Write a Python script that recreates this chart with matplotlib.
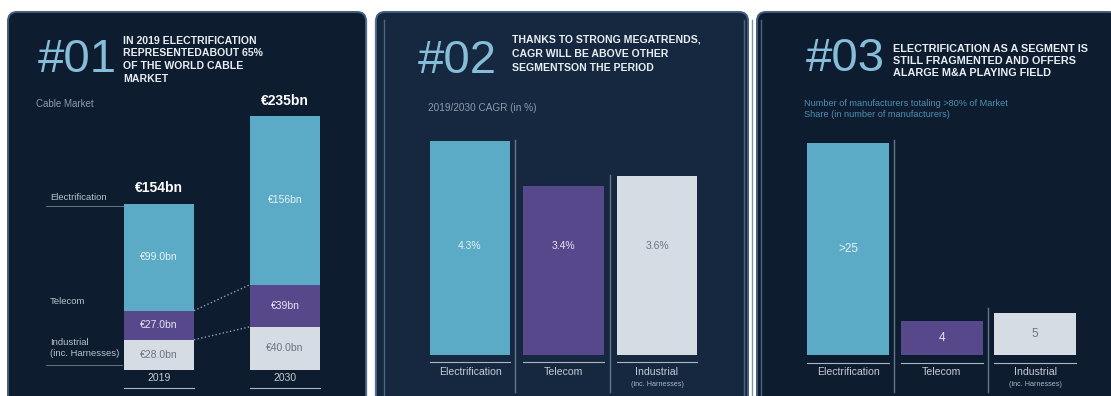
import matplotlib
matplotlib.use("Agg")
import matplotlib.pyplot as plt
from matplotlib.patches import FancyBboxPatch
import matplotlib.transforms as mtransforms

# ---------------- data ----------------
years = ["2019", "2030"]
electrification_bn = [99.0, 156.0]
telecom_bn = [27.0, 39.0]
industrial_bn = [28.0, 40.0]
elec_labels = ["€99.0bn", "€156bn"]
tele_labels = ["€27.0bn", "€39bn"]
ind_labels = ["€28.0bn", "€40.0bn"]
total_labels = ["€154bn", "€235bn"]

segments = ["Electrification", "Telecom", "Industrial"]
cagr_pct = [4.3, 3.4, 3.6]
cagr_labels = ["4.3%", "3.4%", "3.6%"]

manufacturers = [25, 4, 5]
manuf_labels = [">25", "4", "5"]

# ---------------- style ----------------
W, H = 1111, 396
C_ELEC = "#5cabc6"
C_TELE = "#56488a"
C_IND = "#d6dce4"
C_NUM = "#86bdd8"
C_HEAD = "#e8edf2"
C_SUB = "#8d9bab"
FONT = "Liberation Sans"

fig = plt.figure(figsize=(W / 100, H / 100), dpi=100)
fig.patch.set_facecolor("white")

bg = fig.add_axes([0, 0, 1, 1])
bg.set_xlim(0, W)
bg.set_ylim(H, 0)
bg.axis("off")

# panels
panels = [(8, 366, "#0e1c2f"), (376, 748, "#16283f"), (757, 1118, "#0e1c30")]
for x0, x1, col in panels:
    bg.add_patch(FancyBboxPatch((x0, 12), x1 - x0, 400, boxstyle="round,pad=0,rounding_size=9",
                                facecolor=col, edgecolor="#3f5d7c", linewidth=1.4))
# glass edge lines
for x in [366, 375, 384, 744, 752, 761]:
    bg.plot([x, x], [20, H], color="#5a7896", lw=1.0, alpha=0.8)


def px_axes(x0, x1, ytop, ybot):
    ax = fig.add_axes([x0 / W, 1 - ybot / H, (x1 - x0) / W, (ybot - ytop) / H])
    ax.patch.set_alpha(0)
    ax.axis("off")
    return ax


def header(x_num, base, num, xt, ytop, lines, sp=12, fs=7.8):
    bg.text(x_num, base, num, fontsize=34, color=C_NUM, family=FONT, va="baseline", ha="left")
    for i, ln in enumerate(lines):
        bg.text(xt, ytop + i * sp, ln, fontsize=fs, color=C_HEAD, family=FONT,
                fontweight="bold", va="top", ha="left")


LBL = "#c4ccd6"

# ---------------- panel 1 ----------------
header(38, 72, "#01", 123, 36, ["IN 2019 ELECTRIFICATION", "REPRESENTEDABOUT 65%",
                                 "OF THE WORLD CABLE", "MARKET"], sp=12.5, fs=7.6)
bg.text(36, 104, "Cable Market", fontsize=7, color=C_SUB, family=FONT, va="center")

ax1 = px_axes(100, 345, 100, 370)
ax1.set_xlim(-0.468, 1.476)
ax1.set_ylim(0, 250)
xs = [0, 1]
bw = 0.556
ax1.bar(xs, industrial_bn, width=bw, color=C_IND)
ax1.bar(xs, telecom_bn, width=bw, bottom=industrial_bn, color=C_TELE)
base2 = [a + b for a, b in zip(industrial_bn, telecom_bn)]
ax1.bar(xs, electrification_bn, width=bw, bottom=base2, color=C_ELEC)
for i in range(2):
    ax1.text(xs[i], industrial_bn[i] / 2, ind_labels[i], ha="center", va="center",
             fontsize=7.5, color="#6b7480", family=FONT)
    ax1.text(xs[i], industrial_bn[i] + telecom_bn[i] / 2, tele_labels[i], ha="center",
             va="center", fontsize=7.5, color="#e8e4f4", family=FONT)
    ax1.text(xs[i], base2[i] + electrification_bn[i] / 2, elec_labels[i], ha="center",
             va="center", fontsize=7.5, color="#e4f2f8", family=FONT)
    tot = base2[i] + electrification_bn[i]
    ax1.text(xs[i], tot + 8, total_labels[i], ha="center", va="bottom", fontsize=10,
             color="white", family=FONT, fontweight="bold")
# connectors
ax1.plot([xs[0] + bw / 2, xs[1] - bw / 2], [base2[0], base2[1]], ls=":", color="#8aa0b8", lw=1)
ax1.plot([xs[0] + bw / 2, xs[1] - bw / 2], [industrial_bn[0], industrial_bn[1]], ls=":",
         color="#8aa0b8", lw=1)
tr1 = mtransforms.blended_transform_factory(ax1.transData, bg.transData)
for i in range(2):
    ax1.text(xs[i], 378, years[i], transform=tr1, ha="center", va="center", fontsize=7.5,
             color=LBL, family=FONT)
    ax1.plot([xs[i] - bw / 2, xs[i] + bw / 2], [388, 388], transform=tr1, color="#aab6c4",
             lw=0.8, clip_on=False)
# left labels
bg.text(50, 198, "Electrification", fontsize=6.8, color="#b8c2cc", family=FONT, va="center")
bg.plot([46, 124], [206, 206], color="#6e8296", lw=0.6)
bg.text(50, 301, "Telecom", fontsize=6.8, color="#b8c2cc", family=FONT, va="center")
bg.text(50, 348, "Industrial\n(inc. Harnesses)", fontsize=6.8, color="#b8c2cc", family=FONT,
        va="center", linespacing=1.2)
bg.plot([46, 122], [365, 365], color="#6e8296", lw=0.6)

# ---------------- panel 2 ----------------
header(418, 73, "#02", 512, 35, ["THANKS TO STRONG MEGATRENDS,", "CAGR WILL BE ABOVE OTHER",
                                  "SEGMENTSON THE PERIOD"], sp=14, fs=7.6)
bg.text(428, 108, "2019/2030 CAGR (in %)", fontsize=7.2, color=C_SUB, family=FONT, va="center")

ax2 = px_axes(420, 710, 100, 355)
ax2.set_xlim(-0.535, 2.567)
ax2.set_ylim(0, 255 / 49.8)
xs3 = [0, 1, 2]
bw2 = 0.856
ax2.bar(xs3, cagr_pct, width=bw2, color=[C_ELEC, C_TELE, C_IND])
tr2 = mtransforms.blended_transform_factory(ax2.transData, bg.transData)
lab_col = ["#e4f2f8", "#e8e4f4", "#6b7480"]
for i in range(3):
    ax2.text(xs3[i], 246, cagr_labels[i], transform=tr2, ha="center", va="center",
             fontsize=7.5, color=lab_col[i], family=FONT)
    ax2.plot([xs3[i] - bw2 / 2, xs3[i] + bw2 / 2], [362, 362], transform=tr2,
             color="#aab6c4", lw=0.8, clip_on=False)
    ax2.text(xs3[i], 372, segments[i], transform=tr2, ha="center", va="center",
             fontsize=7.6, color=LBL, family=FONT)
ax2.text(xs3[2], 384, "(inc. Harnesses)", transform=tr2, ha="center", va="center",
         fontsize=5.2, color="#aab6c4", family=FONT)
bg.plot([515, 515], [140, 392], color="#62788f", lw=1.0)
bg.plot([610, 610], [175, 392], color="#62788f", lw=1.0)

# ---------------- panel 3 ----------------
header(806, 71, "#03", 893, 44, ["ELECTRIFICATION AS A SEGMENT IS",
                                  "STILL FRAGMENTED AND OFFERS",
                                  "ALARGE M&A PLAYING FIELD"], sp=12, fs=7.8)
bg.text(804, 109, "Number of manufacturers totaling >80% of Market\nShare (in number of manufacturers)",
        fontsize=6.6, color="#4f8fb0", family=FONT, va="center", linespacing=1.25)

ax3 = px_axes(795, 1090, 100, 355)
ax3.set_xlim(-0.567, 2.588)
ax3.set_ylim(0, 30)
bw3 = 0.877
ax3.bar(xs3, manufacturers, width=bw3, color=[C_ELEC, C_TELE, C_IND])
tr3 = mtransforms.blended_transform_factory(ax3.transData, bg.transData)
for i in range(3):
    ax3.text(xs3[i], manufacturers[i] / 2, manuf_labels[i], ha="center", va="center",
             fontsize=8.5, color=lab_col[i], family=FONT)
    ax3.plot([xs3[i] - bw3 / 2, xs3[i] + bw3 / 2], [363, 363], transform=tr3,
             color="#aab6c4", lw=0.8, clip_on=False)
    ax3.text(xs3[i], 372, segments[i], transform=tr3, ha="center", va="center",
             fontsize=7.6, color=LBL, family=FONT)
ax3.text(xs3[2], 385, "(inc. Harnesses)", transform=tr3, ha="center", va="center",
         fontsize=5.2, color="#aab6c4", family=FONT)
bg.plot([894, 894], [140, 392], color="#62788f", lw=1.0)
bg.plot([988, 988], [308, 392], color="#62788f", lw=1.0)

fig.savefig("out.png", dpi=100, facecolor=fig.get_facecolor())
